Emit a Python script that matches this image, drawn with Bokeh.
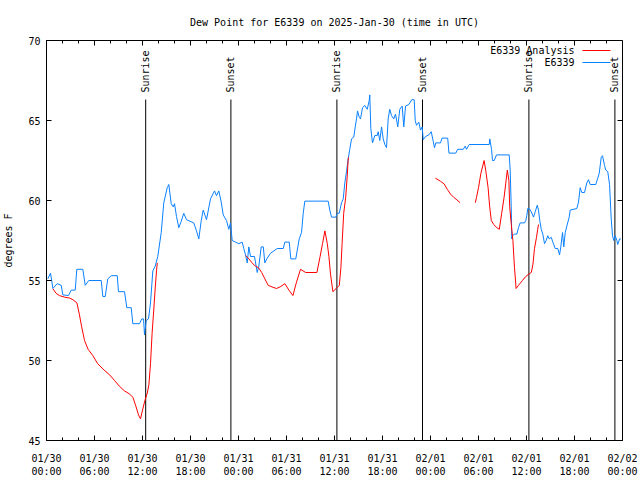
import math
from bokeh.plotting import figure
from bokeh.models import FixedTicker, Range1d, Label, Arrow
from bokeh.core.properties import value
from bokeh.embed import file_html
from bokeh.resources import INLINE

NAN = float("nan")
FONT = "DejaVu Sans Mono"

title_text = "Dew Point for E6339 on 2025-Jan-30 (time in UTC)"
y_label = "degrees F"
series_names = ["E6339 Analysis", "E6339"]

tick_hours = [0, 6, 12, 18, 24, 30, 36, 42, 48, 54, 60, 66, 72]
tick_labels = ["01/30\n00:00", "01/30\n06:00", "01/30\n12:00", "01/30\n18:00",
               "01/31\n00:00", "01/31\n06:00", "01/31\n12:00", "01/31\n18:00",
               "02/01\n00:00", "02/01\n06:00", "02/01\n12:00", "02/01\n18:00",
               "02/02\n00:00"]
minor_hours = list(range(0, 73, 2))
y_ticks = [45, 50, 55, 60, 65, 70]

# sunrise / sunset (hours since 01/30 00:00 UTC)
sun_hours = [12.4, 23.05, 36.3, 47.0, 60.3, 71.05]
sun_labels = ["Sunrise", "Sunset", "Sunrise", "Sunset", "Sunrise", "Sunset"]

# observed dew point (E6339)
obs_hours = [0.16, 0.5, 0.8, 1.33, 1.84, 2.04, 2.75, 3.09, 3.59, 3.79, 4.54, 4.84, 5.29, 6.84, 7.04,
             7.34, 7.66, 8.09, 8.84, 9.0, 9.75, 10.04, 10.59, 10.79, 11.63, 11.91, 12.13, 12.25, 12.46,
             12.75, 13.0, 13.29, 13.59, 13.91, 14.34, 14.66, 15.09, 15.29, 15.59, 15.84, 16.0, 16.25,
             16.54, 16.84, 17.16, 17.5, 18.41, 18.75, 19.04, 19.34, 19.59, 20.0, 20.5, 21.0, 21.25,
             21.54, 21.84, 22.09, 22.5, 22.79, 23.0, 23.21, 23.63, 24.04, 24.46, 24.66, 24.88, 25.09,
             25.29, 25.5, 26.0, 26.34, 26.54, 26.84, 27.1, 27.29, 27.59, 28.0, 28.84, 29.6, 29.79,
             30.34, 30.54, 31.16, 31.59, 31.88, 32.09, 32.29, 33.84, 35.21, 35.41, 35.63, 36.16, 36.34,
             36.59, 36.88, 37.09, 37.29, 37.5, 37.71, 37.91, 38.13, 38.41, 38.59, 38.75, 38.88, 39.09,
             39.25, 39.5, 39.79, 40.09, 40.34, 40.41, 40.54, 40.75, 41.04, 41.34, 41.46, 41.66, 41.88,
             42.09, 42.29, 42.5, 42.71, 42.91, 43.13, 43.41, 43.63, 43.91, 44.16, 44.46, 44.66, 44.88,
             45.29, 45.66, 45.96, 46.09, 46.25, 46.54, 46.75, 46.96, 47.09, 47.38, 47.79, 48.09, 48.34,
             48.5, 48.66, 49.25, 49.44, 50.15, 50.31, 51.16, 51.4, 52.09, 52.34, 52.5, 52.84, 55.34,
             55.41, 55.63, 55.75, 55.96, 56.25, 57.84, 57.96, 58.09, 58.16, 58.25, 58.5, 58.79, 59.0,
             59.21, 59.75, 59.91, 60.04, 60.16, 60.34, 60.59, 60.88, 61.09, 61.34, 61.5, 61.66, 61.84,
             62.04, 62.25, 62.46, 62.66, 62.84, 63.09, 63.29, 63.59, 63.91, 64.13, 64.29, 64.5, 64.66,
             64.84, 65.04, 65.34, 65.46, 66.29, 66.5, 66.71, 66.91, 67.25, 67.54, 67.75, 67.96, 68.66,
             68.91, 69.09, 69.34, 69.5, 69.75, 69.91, 70.16, 70.38, 70.59, 70.75, 70.91, 71.09, 71.29,
             71.41, 71.63, 71.79]
obs_dewpt = [55.1, 55.46, 54.5, 54.8, 54.7, 54.1, 54.06, 54.4, 54.4, 55.7, 55.7, 54.7, 55.0, 55.0, 54.0,
             54.0, 55.1, 55.3, 55.3, 54.3, 54.3, 53.3, 53.3, 52.3, 52.3, 52.6, 52.6, 51.6, 52.5,
             52.6, 53.6, 55.6, 55.9, 56.5, 58.0, 59.85, 60.8, 61.0, 59.8, 59.6, 59.8, 59.0,
             58.3, 58.7, 59.2, 58.8, 58.6, 58.1, 57.6, 58.75, 59.4, 58.8, 60.1, 60.6, 60.3,
             60.6, 59.9, 59.1, 58.75, 58.2, 58.6, 57.5, 57.4, 57.3, 57.4, 57.0, 56.6, 56.1,
             57.1, 56.5, 56.5, 55.5, 55.9, 57.1, 57.1, 56.1, 56.4, 56.7, 57.0, 57.0, 57.4,
             57.4, 56.35, 56.35, 57.6, 58.0, 59.2, 59.96, 59.96, 59.96, 59.4, 58.96, 58.96, 59.2,
             59.2, 59.86, 60.1, 61.1, 61.8, 62.6, 63.2, 63.85, 63.96, 64.6, 65.1, 65.6, 65.2,
             65.1, 65.8, 65.94, 65.7, 66.25, 66.6, 64.5, 63.6, 64.06, 64.06, 64.3, 63.75, 64.6,
             63.85, 63.5, 63.3, 65.1, 65.7, 65.3, 65.1, 65.4, 64.6, 65.7, 65.9, 64.6, 65.9,
             66.0, 66.3, 66.3, 65.0, 64.7, 64.9, 64.4, 64.6, 63.8, 64.0, 64.1, 64.3, 63.7,
             63.3, 63.6, 63.6, 63.9, 63.9, 62.96, 62.96, 63.2, 63.2, 63.4, 63.2, 63.5, 63.5,
             63.85, 63.2, 62.5, 62.5, 62.85, 62.85, 61.9, 59.6, 57.6, 57.8, 57.9, 57.9, 58.3,
             58.6, 58.6, 58.75, 59.06, 59.5, 59.5, 59.3, 58.96, 59.3, 59.7, 59.4, 58.75, 58.2,
             57.9, 57.3, 57.5, 57.8, 57.6, 57.7, 57.4, 57.0, 57.0, 56.6, 57.1, 58.0, 57.1,
             58.0, 58.4, 58.96, 59.4, 59.5, 59.9, 60.8, 60.5, 60.5, 61.1, 61.3, 61.0, 61.0,
             61.4, 61.7, 62.7, 62.8, 62.2, 61.9, 61.8, 61.0, 58.85, 57.8, 57.5, 57.8, 57.5,
             57.25, 57.6, 57.6]

# analysis dew point (E6339 Analysis), NaN = missing
ana_hours = [0.8, 1.2, 1.6, 2.25, 2.9, 3.3, 3.8, 4.1, 4.4, 4.75, 5.2, 5.8, 6.4, 7.2, 7.9, 8.5, 9.1,
             9.75, 10.4, 10.8, 11.2, 11.5, 11.75, 12.0, 12.3, 12.6, 12.8, 13.0, 13.2, 13.4, 13.6,
             13.75, 13.85, 19.0,
             24.9, 25.3, 25.7, 26.1, 26.5, 26.9, 27.3, 27.7, 28.2, 28.75, 29.2, 29.8, 30.3, 30.8,
             31.25, 31.75, 32.4, 33.8, 34.2, 34.5, 34.8, 35.1, 35.3, 35.5, 35.8, 36.2, 36.6, 36.8,
             36.95, 37.15, 37.4, 37.6, 37.7, 37.75, 43.0,
             48.6, 49.25, 49.7, 50.1, 50.5, 50.9, 51.3, 51.7, 52.5,
             53.6, 53.75, 54.0, 54.3, 54.7, 54.9, 55.2, 55.4, 55.6, 55.9, 56.3, 56.6, 56.9, 57.2,
             57.4, 57.6, 57.8, 57.9, 58.1, 58.3, 58.5, 58.7, 59.0, 59.5, 59.9, 60.3, 60.6, 60.8,
             61.0, 61.25, 61.4, 61.5]
ana_dewpt = [54.48, 54.2, 54.06, 53.96, 53.9, 53.8, 53.6, 52.9, 52.1, 51.25, 50.7, 50.3, 49.8, 49.4,
             49.1, 48.75, 48.4, 48.1, 47.9, 47.7, 47.1, 46.6, 46.35, 46.9, 47.5, 47.96, 48.5, 49.8,
             51.7, 53.1, 54.6, 55.6, 56.1, NAN,
             56.56, 56.35, 56.1, 55.9, 55.8, 55.5, 55.1, 54.7, 54.6, 54.5, 54.6, 54.8, 54.4, 54.06,
             54.9, 55.7, 55.5, 55.5, 56.5, 57.3, 58.1, 57.3, 56.5, 55.4, 54.3, 54.5, 54.7, 55.8,
             57.3, 59.2, 60.2, 61.6, 62.5, 62.7, NAN,
             61.4, 61.2, 61.04, 60.7, 60.4, 60.2, 60.04, 59.86, NAN,
             59.86, 60.2, 60.8, 61.7, 62.5, 61.9, 60.8, 59.6, 58.75, 58.5, 58.3, 58.2, 59.2, 60.2,
             61.04, 61.9, 61.25, 59.6, 58.5, 57.5, 55.8, 54.5, 54.7, 55.0, 55.25, 55.4, 55.5, 56.0,
             57.0, 57.7, 58.2, 58.5]

RED = "#ff0000"
BLUE = "#0a80ff"

# layout (pixels)
W, H = 640, 480
BL, BR, BT, BB = 46, 18, 40, 40
FW, FH = W - BL - BR, H - BT - BB
x0, x1 = tick_hours[0], tick_hours[-1]
y0, y1 = y_ticks[0], y_ticks[-1]
px_x = (x1 - x0) / FW   # data units per pixel (x)
px_y = (y1 - y0) / FH   # data units per pixel (y)

p = figure(width=W, height=H, output_backend="svg", toolbar_location=None,
           x_range=Range1d(x0, x1), y_range=Range1d(y0, y1),
           min_border_left=BL, min_border_right=BR, min_border_top=BT, min_border_bottom=BB,
           title=title_text)
p.background_fill_color = "white"
p.border_fill_color = "white"
p.outline_line_color = "black"
p.outline_line_width = 1
p.xgrid.visible = False
p.ygrid.visible = False

p.title.align = "center"
p.title.text_font = FONT
p.title.text_font_size = "10px"
p.title.text_font_style = "normal"
p.title.text_color = "black"
p.title.standoff = 25

xa = p.xaxis[0]
xa.ticker = FixedTicker(ticks=tick_hours, minor_ticks=minor_hours)
xa.major_label_overrides = {h: lab for h, lab in zip(tick_hours, tick_labels)}
ya = p.yaxis[0]
ya.ticker = FixedTicker(ticks=y_ticks, minor_ticks=[])
for ax in (xa, ya):
    ax.major_tick_in = 5
    ax.major_tick_out = 0
    ax.minor_tick_in = 3
    ax.minor_tick_out = 0
    ax.axis_line_color = "black"
    ax.major_tick_line_color = "black"
    ax.minor_tick_line_color = "black"
    ax.major_label_text_font = FONT
    ax.major_label_text_font_size = "10px"
    ax.major_label_text_color = "black"
xa.major_label_standoff = 12
xa.major_label_text_line_height = 1.25
ya.major_label_standoff = 6
ya.axis_label = y_label
ya.axis_label_text_font = FONT
ya.axis_label_text_font_size = "10px"
ya.axis_label_text_font_style = "normal"
ya.axis_label_text_color = "black"
ya.axis_label_standoff = 11

# mirrored ticks on top and right border (gnuplot style)
p.segment(x0=tick_hours, y0=[y1] * len(tick_hours), x1=tick_hours,
          y1=[y1 - 5 * px_y] * len(tick_hours), line_color="black", line_width=1)
p.segment(x0=minor_hours, y0=[y1] * len(minor_hours), x1=minor_hours,
          y1=[y1 - 3 * px_y] * len(minor_hours), line_color="black", line_width=1)
p.segment(x0=[x1] * len(y_ticks), y0=y_ticks, x1=[x1 - 5 * px_x] * len(y_ticks),
          y1=y_ticks, line_color="black", line_width=1)

# sunrise / sunset markers
label_y = y1 - 52 * px_y
p.segment(x0=sun_hours, y0=[y0] * len(sun_hours), x1=sun_hours,
          y1=[label_y - 7 * px_y] * len(sun_hours), line_color="black", line_width=1)
p.text(x=sun_hours, y=[label_y] * len(sun_hours), text=sun_labels, angle=math.pi / 2,
       text_align="left", text_baseline="middle", text_font=value(FONT),
       text_font_size="10px", text_color="black")

# series
p.line(obs_hours, obs_dewpt, line_color=BLUE, line_width=1)
p.line(ana_hours, ana_dewpt, line_color=RED, line_width=1)

# gnuplot-style key (label left, sample right)
for i, (name, col) in enumerate(zip(series_names, [RED, BLUE])):
    yy = FH - 10 - 12 * i
    p.add_layout(Label(x=FW - 48, y=yy, x_units="screen", y_units="screen", text=name,
                       text_align="right", text_baseline="middle", text_font=FONT,
                       text_font_size="10px", text_color="black"))
    p.add_layout(Arrow(end=None, x_start=FW - 40, y_start=yy, x_end=FW - 12, y_end=yy,
                       start_units="screen", end_units="screen", line_color=col, line_width=1))

open("out.html", "w").write(file_html(p, INLINE))
